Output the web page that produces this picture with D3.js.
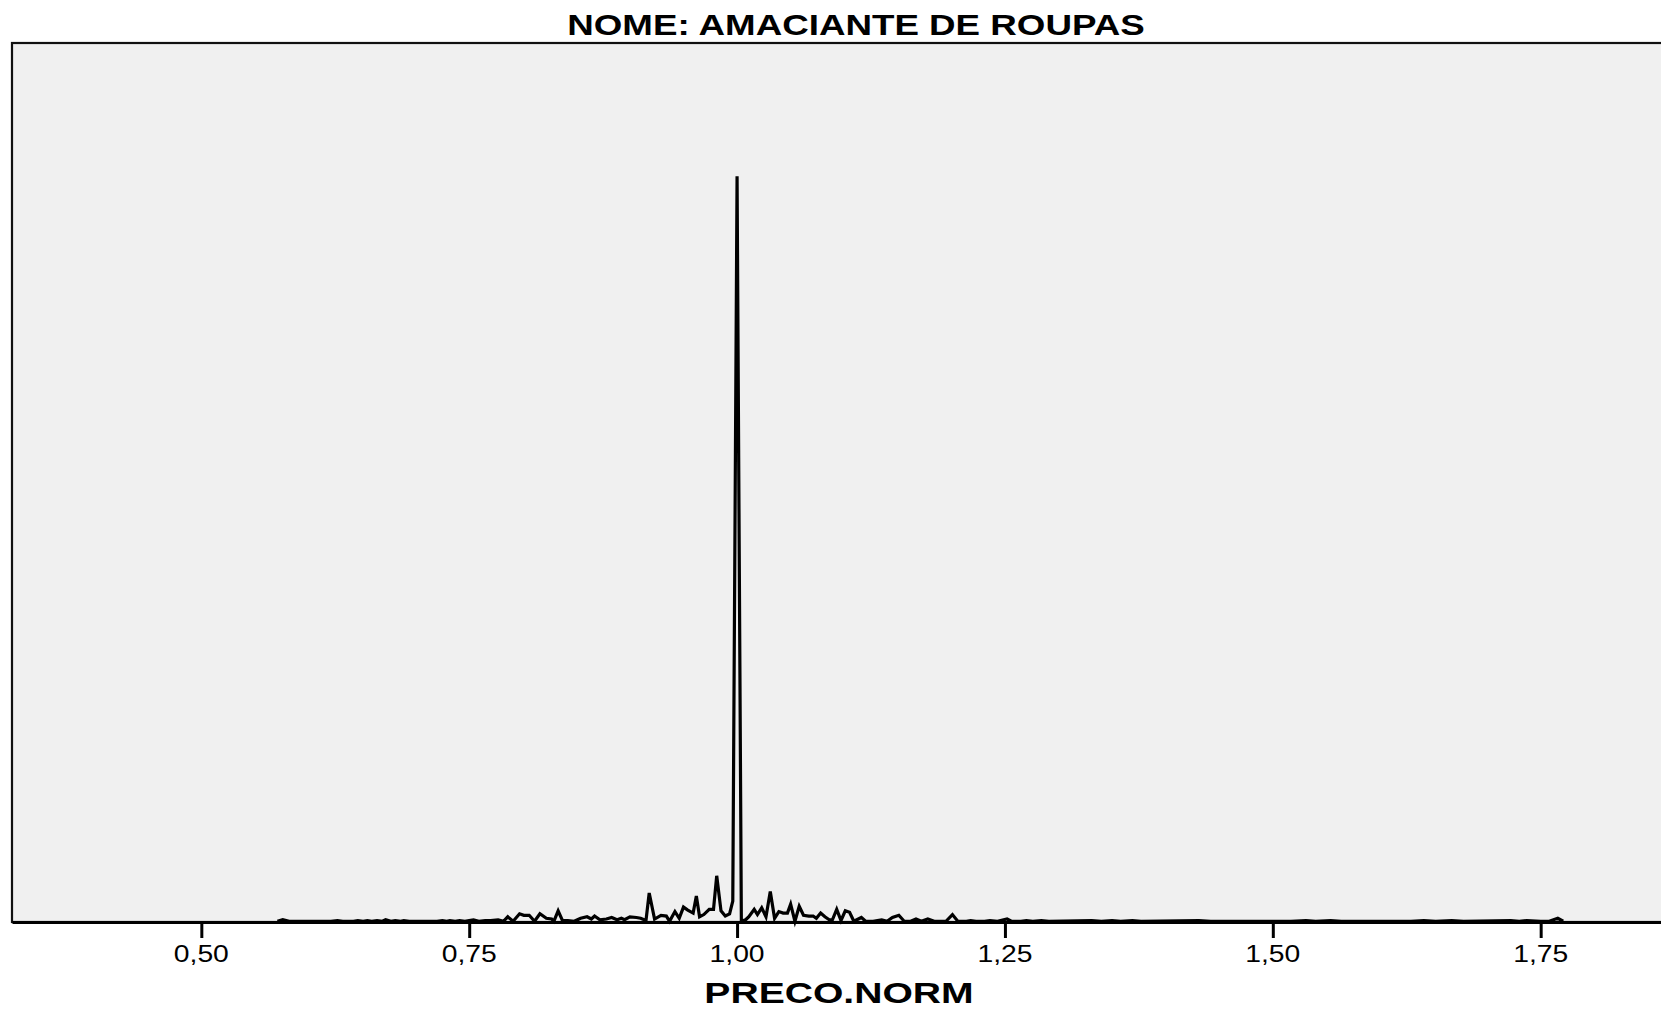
<!DOCTYPE html>
<html>
<head>
<meta charset="utf-8">
<script src="https://cdn.jsdelivr.net/npm/d3@7"></script>
<style>
  body { margin: 0; background: #fff; }
  text { font-family: "Liberation Sans", Arial, Helvetica, sans-serif; fill: #000; }
</style>
</head>
<body>
<script>
// DATA: normalized price value and its frequency (count)
var precoValues = [
  0.571, 0.576, 0.582, 0.621, 0.627, 0.632, 0.642, 0.646, 0.651, 0.655,
  0.659, 0.664, 0.669, 0.672, 0.677, 0.681, 0.686, 0.689, 0.694, 0.705,
  0.720, 0.725, 0.729, 0.732, 0.737, 0.741, 0.746, 0.750, 0.754, 0.759,
  0.765, 0.770, 0.777, 0.782, 0.786, 0.791, 0.797, 0.801, 0.806, 0.811,
  0.816, 0.822, 0.827, 0.829, 0.833, 0.837, 0.842, 0.848, 0.854, 0.860,
  0.864, 0.867, 0.872, 0.878, 0.883, 0.888, 0.892, 0.895, 0.900, 0.906,
  0.910, 0.915, 0.918, 0.923, 0.929, 0.934, 0.937, 0.942, 0.946, 0.950,
  0.954, 0.959, 0.962, 0.965, 0.969, 0.974, 0.978, 0.981, 0.985, 0.989,
  0.993, 0.996, 1.000, 1.004, 1.008, 1.011, 1.016, 1.019, 1.023, 1.027,
  1.031, 1.035, 1.039, 1.043, 1.047, 1.050, 1.054, 1.058, 1.062, 1.067,
  1.071, 1.074, 1.078, 1.082, 1.086, 1.089, 1.093, 1.097, 1.101, 1.105,
  1.109, 1.116, 1.120, 1.127, 1.131, 1.135, 1.140, 1.145, 1.151, 1.156,
  1.162, 1.167, 1.172, 1.178, 1.184, 1.190, 1.195, 1.201, 1.206, 1.214,
  1.218, 1.223, 1.231, 1.236, 1.243, 1.252, 1.256, 1.265, 1.270, 1.276,
  1.284, 1.291, 1.331, 1.340, 1.350, 1.358, 1.369, 1.377, 1.431, 1.442,
  1.517, 1.531, 1.540, 1.554, 1.564, 1.629, 1.641, 1.652, 1.667, 1.678,
  1.722, 1.730, 1.737, 1.750, 1.758, 1.766, 1.771
];

var frequencies = [
  1, 3, 1, 1, 2, 1, 1, 2, 1, 2,
  1, 2, 1, 3, 1, 2, 1, 2, 1, 1,
  1, 2, 1, 2, 1, 2, 1, 2, 3, 1,
  2, 2, 3, 1, 7, 1, 11, 9, 9, 1,
  11, 5, 4, 1, 15, 2, 2, 1, 5, 7,
  4, 8, 3, 4, 6, 3, 5, 3, 7, 6,
  5, 2, 39, 4, 9, 8, 1, 14, 5, 20,
  16, 12, 35, 7, 10, 17, 17, 62, 15, 8,
  11, 28, 1001, 1, 3, 7, 17, 10, 19, 7,
  41, 5, 14, 12, 12, 24, 1, 21, 9, 8,
  8, 5, 12, 7, 3, 3, 17, 2, 15, 13,
  1, 6, 1, 1, 2, 3, 1, 6, 9, 1,
  1, 4, 1, 4, 1, 1, 1, 10, 1, 1,
  2, 1, 1, 2, 1, 4, 1, 1, 2, 1,
  2, 1, 2, 1, 2, 1, 2, 1, 2, 1,
  1, 2, 1, 2, 1, 1, 2, 1, 2, 1,
  2, 1, 2, 1, 1, 5, 1
];

var tickValues = [0.50, 0.75, 1.00, 1.25, 1.50, 1.75];
var tickLabels = ['0,50', '0,75', '1,00', '1,25', '1,50', '1,75'];

var chartTitle = 'NOME: AMACIANTE DE ROUPAS';
var xTitle = 'PRECO.NORM';

// SET UP DIMENSIONS
var w = 1661,
    h = 1010;

var plot = { left: 12, top: 43, right: 1661, bottom: 922 };

var svg = d3.select('body').append('svg')
  .attr('width', w)
  .attr('height', h);

// SCALES
var xScale = d3.scaleLinear()
  .domain([0.3233, 1.8623])
  .range([plot.left, plot.right]);

var yScale = d3.scaleLinear()
  .domain([0, 1180])
  .range([plot.bottom, plot.top]);

// PLOT BACKGROUND AND FRAME (right edge runs off the picture)
svg.append('rect')
  .attr('x', plot.left)
  .attr('y', plot.top)
  .attr('width', plot.right - plot.left + 20)
  .attr('height', plot.bottom - plot.top)
  .attr('fill', '#f0f0f0')
  .attr('stroke', '#111')
  .attr('stroke-width', 2.2);

// LINE
var points = precoValues.map(function(d, i) { return [d, frequencies[i]]; });

var line = d3.line()
  .x(function(d) { return xScale(d[0]); })
  .y(function(d) { return yScale(d[1]); });

svg.append('path')
  .datum(points)
  .attr('d', line)
  .attr('fill', 'none')
  .attr('stroke', '#000')
  .attr('stroke-width', 3.2);

// X AXIS
var xAxis = d3.axisBottom(xScale)
  .tickValues(tickValues)
  .tickSize(16)
  .tickSizeOuter(0)
  .tickFormat('');

var axisG = svg.append('g')
  .attr('transform', translation(0, plot.bottom))
  .call(xAxis);

axisG.select('.domain')
  .attr('stroke', '#000')
  .attr('stroke-width', 3);

axisG.selectAll('.tick line')
  .attr('stroke', '#000')
  .attr('stroke-width', 3);

// tick labels, stretched wide like the original
svg.selectAll('.tick-label')
  .data(tickValues)
  .enter().append('text')
    .attr('class', 'tick-label')
    .attr('transform', function(d) { return translation(xScale(d), 962) + ' scale(1.23,1)'; })
    .attr('text-anchor', 'middle')
    .style('font-size', '23px')
    .text(function(d, i) { return tickLabels[i]; });

// TITLES
svg.append('text')
  .attr('transform', translation(856, 35) + ' scale(1.254,1)')
  .attr('text-anchor', 'middle')
  .style('font-size', '29.3px')
  .style('font-weight', 'bold')
  .text(chartTitle);

svg.append('text')
  .attr('transform', translation(839, 1003) + ' scale(1.29,1)')
  .attr('text-anchor', 'middle')
  .style('font-size', '30.3px')
  .style('font-weight', 'bold')
  .text(xTitle);

function translation(x, y) {
  return 'translate(' + x + ',' + y + ')';
}
</script>
</body>
</html>
